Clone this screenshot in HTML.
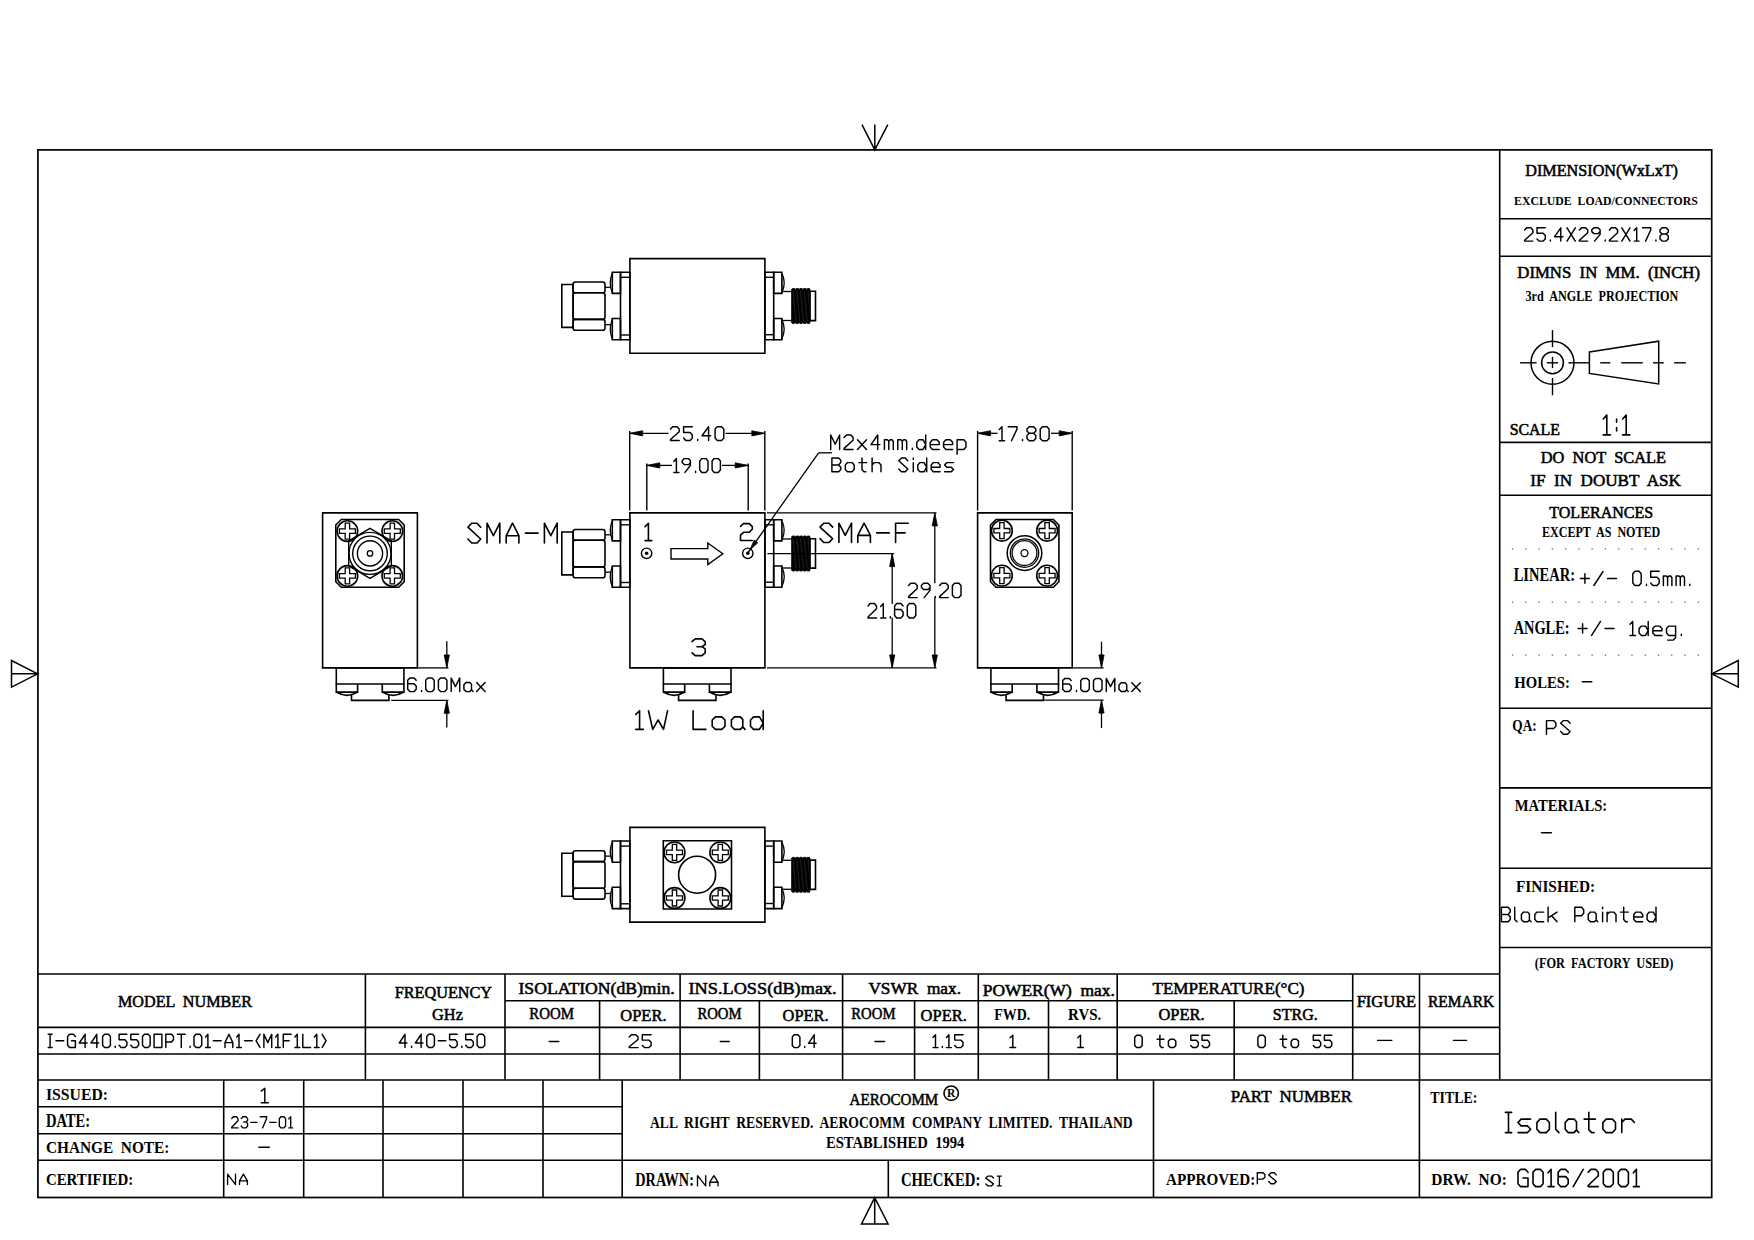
<!DOCTYPE html>
<html><head><meta charset="utf-8"><title>Isolator drawing</title><style>
html,body{margin:0;padding:0;background:#fff;width:1754px;height:1240px;overflow:hidden}
svg{display:block}
text{white-space:pre}
</style></head>
<body><svg width="1754" height="1240" viewBox="0 0 1754 1240">
<rect x="0" y="0" width="1754" height="1240" fill="#fff"/>
<g stroke="#000" fill="none" stroke-width="1.6">
<rect x="37.9" y="149.9" width="1673.8" height="1047.6" stroke-width="1.7"/>
<path d="M862,124.6 L874.8,149.9 L887.8,124.6 M874.8,124.6 L874.8,149.9" stroke-width="1.5"/>
<path d="M874.7,1197.6 L861.5,1223.9 L888.1,1223.9 Z M874.7,1197.6 L874.7,1223.9" stroke-width="1.5"/>
<path d="M37.7,673.8 L11.5,660.5 L11.5,687.1 Z M11.5,673.8 L37.7,673.8" stroke-width="1.5"/>
<path d="M1711.7,673.8 L1738.3,660.5 L1738.3,687.1 Z M1711.7,673.8 L1738.3,673.8" stroke-width="1.5"/>
<line x1="1499.7" y1="149.9" x2="1499.7" y2="1080"/>
<line x1="1499.7" y1="218.8" x2="1711.7" y2="218.8"/>
<line x1="1499.7" y1="256.3" x2="1711.7" y2="256.3"/>
<line x1="1499.7" y1="442.4" x2="1711.7" y2="442.4"/>
<line x1="1499.7" y1="495.3" x2="1711.7" y2="495.3"/>
<line x1="1499.7" y1="708.3" x2="1711.7" y2="708.3"/>
<line x1="1499.7" y1="787.9" x2="1711.7" y2="787.9"/>
<line x1="1499.7" y1="868.2" x2="1711.7" y2="868.2"/>
<line x1="1499.7" y1="947.5" x2="1711.7" y2="947.5"/>
<line x1="37.9" y1="974.0" x2="1499.7" y2="974.0"/>
<line x1="505.0" y1="1000.7" x2="1352.7" y2="1000.7"/>
<line x1="37.9" y1="1027.4" x2="1499.7" y2="1027.4"/>
<line x1="37.9" y1="1054.0" x2="1499.7" y2="1054.0"/>
<line x1="37.9" y1="1080.0" x2="1711.7" y2="1080.0"/>
<line x1="365.4" y1="974.0" x2="365.4" y2="1080.0"/>
<line x1="505.0" y1="974.0" x2="505.0" y2="1080.0"/>
<line x1="680.1" y1="974.0" x2="680.1" y2="1080.0"/>
<line x1="842.6" y1="974.0" x2="842.6" y2="1080.0"/>
<line x1="978.3" y1="974.0" x2="978.3" y2="1080.0"/>
<line x1="1117.2" y1="974.0" x2="1117.2" y2="1080.0"/>
<line x1="1352.7" y1="974.0" x2="1352.7" y2="1080.0"/>
<line x1="1419.5" y1="974.0" x2="1419.5" y2="1080.0"/>
<line x1="599.6" y1="1000.7" x2="599.6" y2="1080.0"/>
<line x1="759.4" y1="1000.7" x2="759.4" y2="1080.0"/>
<line x1="914.6" y1="1000.7" x2="914.6" y2="1080.0"/>
<line x1="1048.5" y1="1000.7" x2="1048.5" y2="1080.0"/>
<line x1="1234.2" y1="1000.7" x2="1234.2" y2="1080.0"/>
<line x1="37.9" y1="1106.8" x2="622.2" y2="1106.8"/>
<line x1="37.9" y1="1133.8" x2="622.2" y2="1133.8"/>
<line x1="37.9" y1="1160.2" x2="1711.7" y2="1160.2"/>
<line x1="223.7" y1="1080.0" x2="223.7" y2="1197.5"/>
<line x1="303.7" y1="1080.0" x2="303.7" y2="1197.5"/>
<line x1="383.0" y1="1080.0" x2="383.0" y2="1197.5"/>
<line x1="463.0" y1="1080.0" x2="463.0" y2="1197.5"/>
<line x1="543.0" y1="1080.0" x2="543.0" y2="1197.5"/>
<line x1="622.2" y1="1080.0" x2="622.2" y2="1197.5"/>
<line x1="1153.5" y1="1080.0" x2="1153.5" y2="1197.5"/>
<line x1="1419.4" y1="1080.0" x2="1419.4" y2="1197.5"/>
<line x1="888.3" y1="1160.2" x2="888.3" y2="1197.5"/>
<text stroke="#000" stroke-width="0.55" fill="#000" font-family="Liberation Serif, serif" font-weight="normal" x="1525.3" y="176.4" font-size="16.56" textLength="152.7" lengthAdjust="spacingAndGlyphs">DIMENSION(WxLxT)</text>
<text stroke="none" fill="#000" font-family="Liberation Serif, serif" font-weight="bold" x="1514.1" y="204.6" font-size="12.21" textLength="183.6" lengthAdjust="spacingAndGlyphs">EXCLUDE  LOAD/CONNECTORS</text>
<path d="M1524.6,230.0 1526.7,227.8 1530.8,227.8 1532.9,230.0 1532.9,232.7 1524.6,240.2 1524.6,241.1 1532.9,241.1M1545.3,227.8 1537.0,227.8 1537.0,233.3 1543.2,233.3 1545.3,235.6 1545.3,238.9 1543.2,241.1 1539.1,241.1 1537.0,238.9M1550.4,241.1 1550.4,240.0M1560.8,241.1 1560.8,227.8 1554.6,236.7 1562.9,236.7M1567.0,241.1 1575.3,227.8M1567.0,227.8 1575.3,241.1M1579.4,230.0 1581.5,227.8 1585.6,227.8 1587.7,230.0 1587.7,232.7 1579.4,240.2 1579.4,241.1 1587.7,241.1M1600.1,231.6 1598.2,233.6 1593.9,233.6 1591.8,231.6 1591.8,229.8 1593.9,227.8 1598.0,227.8 1600.1,229.8 1600.1,234.4 1594.5,241.1M1605.2,241.1 1605.2,240.0M1609.4,230.0 1611.4,227.8 1615.6,227.8 1617.6,230.0 1617.6,232.7 1609.4,240.2 1609.4,241.1 1617.6,241.1M1621.8,241.1 1630.0,227.8M1621.8,227.8 1630.0,241.1M1634.2,230.5 1636.7,227.8 1636.7,241.1M1634.2,241.1 1639.1,241.1M1642.5,227.8 1650.7,227.8 1650.7,230.0 1645.6,241.1M1655.9,241.1 1655.9,240.0M1662.1,234.0 1660.0,232.0 1660.0,229.8 1662.1,227.8 1666.2,227.8 1668.3,229.8 1668.3,232.0 1666.2,234.0 1662.1,234.0 1660.0,236.0 1660.0,238.9 1662.1,241.1 1666.2,241.1 1668.3,238.9 1668.3,236.0 1666.2,234.0" stroke-width="1.45" stroke-linecap="round" stroke-linejoin="round"/>
<text stroke="#000" stroke-width="0.55" fill="#000" font-family="Liberation Serif, serif" font-weight="normal" x="1517.3" y="278.4" font-size="17.02" textLength="182.7" lengthAdjust="spacingAndGlyphs">DIMNS  IN  MM.  (INCH)</text>
<text stroke="none" fill="#000" font-family="Liberation Serif, serif" font-weight="bold" x="1525.5" y="300.7" font-size="13.59" textLength="152.8" lengthAdjust="spacingAndGlyphs">3rd  ANGLE  PROJECTION</text>
<text stroke="#000" stroke-width="0.55" fill="#000" font-family="Liberation Serif, serif" font-weight="normal" x="1509.7" y="434.9" font-size="16.56" textLength="50.2" lengthAdjust="spacingAndGlyphs">SCALE</text>
<path d="M1603.2,419.0 1606.8,415.0 1606.8,434.9M1603.2,434.9 1610.4,434.9M1616.6,430.9 1616.6,427.6M1616.6,422.3 1616.6,419.0M1622.6,419.0 1626.2,415.0 1626.2,434.9M1622.6,434.9 1629.8,434.9" stroke-width="1.6" stroke-linecap="round" stroke-linejoin="round"/>
<text stroke="#000" stroke-width="0.55" fill="#000" font-family="Liberation Serif, serif" font-weight="normal" x="1540.8" y="463.4" font-size="16.56" textLength="125.2" lengthAdjust="spacingAndGlyphs">DO  NOT  SCALE</text>
<text stroke="#000" stroke-width="0.55" fill="#000" font-family="Liberation Serif, serif" font-weight="normal" x="1530.2" y="485.9" font-size="16.87" textLength="150.8" lengthAdjust="spacingAndGlyphs">IF  IN  DOUBT  ASK</text>
<text stroke="#000" stroke-width="0.55" fill="#000" font-family="Liberation Serif, serif" font-weight="normal" x="1549.3" y="517.7" font-size="16.56" textLength="103.9" lengthAdjust="spacingAndGlyphs">TOLERANCES</text>
<text stroke="none" fill="#000" font-family="Liberation Serif, serif" font-weight="bold" x="1542.0" y="536.7" font-size="13.89" textLength="118.2" lengthAdjust="spacingAndGlyphs">EXCEPT  AS  NOTED</text>
<text stroke="none" fill="#000" font-family="Liberation Serif, serif" font-weight="bold" x="1513.7" y="581.2" font-size="18.63" textLength="61.3" lengthAdjust="spacingAndGlyphs">LINEAR:</text>
<path d="M1580.4,578.5 1589.4,578.5M1584.9,583.2 1584.9,573.8M1593.9,585.5 1603.0,571.5M1607.5,578.5 1616.5,578.5" stroke-width="1.45" stroke-linecap="round" stroke-linejoin="round"/>
<path d="M1634.9,585.5 1639.1,585.5 1641.2,583.1 1641.2,573.7 1639.1,571.3 1634.9,571.3 1632.8,573.7 1632.8,583.1 1634.9,585.5M1646.5,585.5 1646.5,584.3M1659.2,571.3 1650.7,571.3 1650.7,577.2 1657.1,577.2 1659.2,579.6 1659.2,583.1 1657.1,585.5 1652.9,585.5 1650.7,583.1M1663.4,585.5 1663.4,576.0 1666.4,576.0 1667.6,577.5 1667.6,585.5M1667.6,577.5 1668.9,576.0 1670.6,576.0 1671.9,577.7 1671.9,585.5M1676.1,585.5 1676.1,576.0 1679.0,576.0 1680.3,577.5 1680.3,585.5M1680.3,577.5 1681.6,576.0 1683.3,576.0 1684.5,577.7 1684.5,585.5M1689.8,585.5 1689.8,584.3" stroke-width="1.45" stroke-linecap="round" stroke-linejoin="round"/>
<text stroke="none" fill="#000" font-family="Liberation Serif, serif" font-weight="bold" x="1513.7" y="633.9" font-size="18.17" textLength="55.9" lengthAdjust="spacingAndGlyphs">ANGLE:</text>
<path d="M1578.1,628.4 1587.1,628.4M1582.6,633.1 1582.6,623.7M1591.6,635.4 1600.5,621.4M1605.0,628.4 1614.0,628.4" stroke-width="1.45" stroke-linecap="round" stroke-linejoin="round"/>
<path d="M1630.0,624.2 1632.7,621.4 1632.7,635.4M1630.0,635.4 1635.5,635.4M1648.2,621.4 1648.2,635.4M1648.2,630.7 1645.5,626.1 1641.4,626.1 1639.1,628.4 1639.1,633.1 1641.4,635.4 1645.5,635.4 1648.2,630.7M1652.8,630.7 1661.9,630.7 1661.9,628.4 1659.6,626.1 1655.1,626.1 1652.8,628.4 1652.8,633.1 1655.1,635.4 1661.9,635.4M1675.6,626.1 1675.6,637.7 1673.3,640.1 1667.6,640.1M1675.6,626.1 1668.8,626.1 1666.5,628.4 1666.5,633.1 1668.8,635.4 1675.6,635.4M1681.3,635.4 1681.3,634.2" stroke-width="1.45" stroke-linecap="round" stroke-linejoin="round"/>
<text stroke="none" fill="#000" font-family="Liberation Serif, serif" font-weight="bold" x="1514.3" y="687.8" font-size="17.40" textLength="55.5" lengthAdjust="spacingAndGlyphs">HOLES:</text>
<path d="M1582.3,681.8 1591.8,681.8" stroke-width="1.45" stroke-linecap="round" stroke-linejoin="round"/>
<text stroke="none" fill="#000" font-family="Liberation Serif, serif" font-weight="bold" x="1512.3" y="730.8" font-size="16.49" textLength="24.4" lengthAdjust="spacingAndGlyphs">QA:</text>
<path d="M1546.5,734.2 1546.5,720.6 1553.6,720.6 1555.9,722.9 1555.9,726.3 1553.6,728.5 1546.5,728.5M1570.1,723.3 1567.5,720.6 1563.5,720.6 1560.7,723.3 1570.1,731.5 1567.5,734.2 1563.5,734.2 1560.7,731.5" stroke-width="1.45" stroke-linecap="round" stroke-linejoin="round"/>
<text stroke="none" fill="#000" font-family="Liberation Serif, serif" font-weight="bold" x="1514.8" y="810.6" font-size="16.49" textLength="92.4" lengthAdjust="spacingAndGlyphs">MATERIALS:</text>
<path d="M1541.5,832.7 1551.4,832.7" stroke-width="1.45" stroke-linecap="round" stroke-linejoin="round"/>
<text stroke="none" fill="#000" font-family="Liberation Serif, serif" font-weight="bold" x="1516.0" y="892.0" font-size="17.40" textLength="79.2" lengthAdjust="spacingAndGlyphs">FINISHED:</text>
<path d="M1501.4,921.8 1501.4,907.3 1508.1,907.3 1510.3,909.7 1510.3,912.1 1508.1,914.5 1501.4,914.5M1508.1,914.5 1510.3,917.0 1510.3,919.4 1508.1,921.8 1501.4,921.8M1514.7,907.3 1514.7,919.4 1517.0,921.8M1523.6,912.1 1527.6,912.1 1529.4,914.1 1529.4,919.9 1531.0,921.8M1523.6,912.1 1521.4,914.5 1521.4,919.4 1523.6,921.8 1527.6,921.8 1529.4,919.9M1543.7,912.1 1537.0,912.1 1534.8,914.5 1534.8,919.4 1537.0,921.8 1543.7,921.8M1548.1,921.8 1548.1,907.3M1557.0,912.1 1548.1,917.9M1551.7,915.8 1557.0,921.8M1574.8,921.8 1574.8,907.3 1581.5,907.3 1583.7,909.7 1583.7,913.3 1581.5,915.8 1574.8,915.8M1590.4,912.1 1594.4,912.1 1596.2,914.1 1596.2,919.9 1597.7,921.8M1590.4,912.1 1588.2,914.5 1588.2,919.4 1590.4,921.8 1594.4,921.8 1596.2,919.9M1602.6,921.8 1602.6,912.1M1602.6,908.8 1602.6,907.3M1607.1,921.8 1607.1,912.1M1607.1,914.5 1609.3,912.1 1613.7,912.1 1616.0,914.5 1616.0,921.8M1620.4,912.1 1628.4,912.1M1623.7,907.3 1623.7,919.6 1625.7,921.8 1627.5,921.8M1633.8,917.0 1642.7,917.0 1642.7,914.5 1640.4,912.1 1636.0,912.1 1633.8,914.5 1633.8,919.4 1636.0,921.8 1642.7,921.8M1656.0,907.3 1656.0,921.8M1656.0,917.0 1653.3,912.1 1649.3,912.1 1647.1,914.5 1647.1,919.4 1649.3,921.8 1653.3,921.8 1656.0,917.0" stroke-width="1.45" stroke-linecap="round" stroke-linejoin="round"/>
<text stroke="none" fill="#000" font-family="Liberation Serif, serif" font-weight="bold" x="1534.8" y="967.6" font-size="13.59" textLength="138.5" lengthAdjust="spacingAndGlyphs">(FOR  FACTORY  USED)</text>
<rect x="1511.9" y="548.2" width="1.3" height="1.3" fill="#666" stroke="none"/>
<rect x="1525.2" y="548.2" width="1.3" height="1.3" fill="#666" stroke="none"/>
<rect x="1538.4" y="548.2" width="1.3" height="1.3" fill="#666" stroke="none"/>
<rect x="1551.7" y="548.2" width="1.3" height="1.3" fill="#666" stroke="none"/>
<rect x="1565.0" y="548.2" width="1.3" height="1.3" fill="#666" stroke="none"/>
<rect x="1578.2" y="548.2" width="1.3" height="1.3" fill="#666" stroke="none"/>
<rect x="1591.5" y="548.2" width="1.3" height="1.3" fill="#666" stroke="none"/>
<rect x="1604.8" y="548.2" width="1.3" height="1.3" fill="#666" stroke="none"/>
<rect x="1618.1" y="548.2" width="1.3" height="1.3" fill="#666" stroke="none"/>
<rect x="1631.3" y="548.2" width="1.3" height="1.3" fill="#666" stroke="none"/>
<rect x="1644.6" y="548.2" width="1.3" height="1.3" fill="#666" stroke="none"/>
<rect x="1657.9" y="548.2" width="1.3" height="1.3" fill="#666" stroke="none"/>
<rect x="1671.1" y="548.2" width="1.3" height="1.3" fill="#666" stroke="none"/>
<rect x="1684.4" y="548.2" width="1.3" height="1.3" fill="#666" stroke="none"/>
<rect x="1697.7" y="548.2" width="1.3" height="1.3" fill="#666" stroke="none"/>
<rect x="1511.9" y="601.5" width="1.3" height="1.3" fill="#666" stroke="none"/>
<rect x="1525.2" y="601.5" width="1.3" height="1.3" fill="#666" stroke="none"/>
<rect x="1538.4" y="601.5" width="1.3" height="1.3" fill="#666" stroke="none"/>
<rect x="1551.7" y="601.5" width="1.3" height="1.3" fill="#666" stroke="none"/>
<rect x="1565.0" y="601.5" width="1.3" height="1.3" fill="#666" stroke="none"/>
<rect x="1578.2" y="601.5" width="1.3" height="1.3" fill="#666" stroke="none"/>
<rect x="1591.5" y="601.5" width="1.3" height="1.3" fill="#666" stroke="none"/>
<rect x="1604.8" y="601.5" width="1.3" height="1.3" fill="#666" stroke="none"/>
<rect x="1618.1" y="601.5" width="1.3" height="1.3" fill="#666" stroke="none"/>
<rect x="1631.3" y="601.5" width="1.3" height="1.3" fill="#666" stroke="none"/>
<rect x="1644.6" y="601.5" width="1.3" height="1.3" fill="#666" stroke="none"/>
<rect x="1657.9" y="601.5" width="1.3" height="1.3" fill="#666" stroke="none"/>
<rect x="1671.1" y="601.5" width="1.3" height="1.3" fill="#666" stroke="none"/>
<rect x="1684.4" y="601.5" width="1.3" height="1.3" fill="#666" stroke="none"/>
<rect x="1697.7" y="601.5" width="1.3" height="1.3" fill="#666" stroke="none"/>
<rect x="1511.9" y="654.5" width="1.3" height="1.3" fill="#666" stroke="none"/>
<rect x="1525.2" y="654.5" width="1.3" height="1.3" fill="#666" stroke="none"/>
<rect x="1538.4" y="654.5" width="1.3" height="1.3" fill="#666" stroke="none"/>
<rect x="1551.7" y="654.5" width="1.3" height="1.3" fill="#666" stroke="none"/>
<rect x="1565.0" y="654.5" width="1.3" height="1.3" fill="#666" stroke="none"/>
<rect x="1578.2" y="654.5" width="1.3" height="1.3" fill="#666" stroke="none"/>
<rect x="1591.5" y="654.5" width="1.3" height="1.3" fill="#666" stroke="none"/>
<rect x="1604.8" y="654.5" width="1.3" height="1.3" fill="#666" stroke="none"/>
<rect x="1618.1" y="654.5" width="1.3" height="1.3" fill="#666" stroke="none"/>
<rect x="1631.3" y="654.5" width="1.3" height="1.3" fill="#666" stroke="none"/>
<rect x="1644.6" y="654.5" width="1.3" height="1.3" fill="#666" stroke="none"/>
<rect x="1657.9" y="654.5" width="1.3" height="1.3" fill="#666" stroke="none"/>
<rect x="1671.1" y="654.5" width="1.3" height="1.3" fill="#666" stroke="none"/>
<rect x="1684.4" y="654.5" width="1.3" height="1.3" fill="#666" stroke="none"/>
<rect x="1697.7" y="654.5" width="1.3" height="1.3" fill="#666" stroke="none"/>
<circle cx="1552.5" cy="362.8" r="21.5" stroke-width="1.5"/>
<circle cx="1552.5" cy="362.8" r="10.9" stroke-width="1.5"/>
<line x1="1520.1" y1="362.8" x2="1536.6" y2="362.8" stroke-width="1.4"/>
<line x1="1546.8" y1="362.8" x2="1558.1" y2="362.8" stroke-width="1.4"/>
<line x1="1568.4" y1="362.8" x2="1588.9" y2="362.8" stroke-width="1.4"/>
<line x1="1600.2" y1="362.8" x2="1610.4" y2="362.8" stroke-width="1.4"/>
<line x1="1621.2" y1="362.8" x2="1642.8" y2="362.8" stroke-width="1.4"/>
<line x1="1653.0" y1="362.8" x2="1663.8" y2="362.8" stroke-width="1.4"/>
<line x1="1674.1" y1="362.8" x2="1685.9" y2="362.8" stroke-width="1.4"/>
<line x1="1552.5" y1="330.1" x2="1552.5" y2="347.1" stroke-width="1.4"/>
<line x1="1552.5" y1="356.8" x2="1552.5" y2="368.1" stroke-width="1.4"/>
<line x1="1552.5" y1="377.9" x2="1552.5" y2="395.3" stroke-width="1.4"/>
<path d="M1589.4,351.9 L1658.7,341.2 L1658.7,384.0 L1589.4,373.4 Z" stroke-width="1.5"/>
<text stroke="#000" stroke-width="0.55" fill="#000" font-family="Liberation Serif, serif" font-weight="normal" x="118.0" y="1006.6" font-size="16.87" textLength="133.9" lengthAdjust="spacingAndGlyphs">MODEL  NUMBER</text>
<text stroke="#000" stroke-width="0.55" fill="#000" font-family="Liberation Serif, serif" font-weight="normal" x="394.7" y="997.8" font-size="16.87" textLength="97.4" lengthAdjust="spacingAndGlyphs">FREQUENCY</text>
<text stroke="#000" stroke-width="0.55" fill="#000" font-family="Liberation Serif, serif" font-weight="normal" x="432.1" y="1020.0" font-size="16.72" textLength="30.8" lengthAdjust="spacingAndGlyphs">GHz</text>
<text stroke="#000" stroke-width="0.55" fill="#000" font-family="Liberation Serif, serif" font-weight="normal" x="518.5" y="994.2" font-size="16.56" textLength="156.2" lengthAdjust="spacingAndGlyphs">ISOLATION(dB)min.</text>
<text stroke="#000" stroke-width="0.55" fill="#000" font-family="Liberation Serif, serif" font-weight="normal" x="688.5" y="994.4" font-size="17.48" textLength="148.2" lengthAdjust="spacingAndGlyphs">INS.LOSS(dB)max.</text>
<text stroke="#000" stroke-width="0.55" fill="#000" font-family="Liberation Serif, serif" font-weight="normal" x="868.4" y="994.4" font-size="17.48" textLength="92.6" lengthAdjust="spacingAndGlyphs">VSWR  max.</text>
<text stroke="#000" stroke-width="0.55" fill="#000" font-family="Liberation Serif, serif" font-weight="normal" x="982.7" y="995.5" font-size="16.87" textLength="132.1" lengthAdjust="spacingAndGlyphs">POWER(W)  max.</text>
<text stroke="#000" stroke-width="0.55" fill="#000" font-family="Liberation Serif, serif" font-weight="normal" x="1152.5" y="993.5" font-size="17.48" textLength="152.0" lengthAdjust="spacingAndGlyphs">TEMPERATURE(°C)</text>
<text stroke="#000" stroke-width="0.55" fill="#000" font-family="Liberation Serif, serif" font-weight="normal" x="1356.7" y="1006.7" font-size="16.26" textLength="59.5" lengthAdjust="spacingAndGlyphs">FIGURE</text>
<text stroke="#000" stroke-width="0.55" fill="#000" font-family="Liberation Serif, serif" font-weight="normal" x="1428.0" y="1006.7" font-size="16.26" textLength="66.2" lengthAdjust="spacingAndGlyphs">REMARK</text>
<text stroke="#000" stroke-width="0.55" fill="#000" font-family="Liberation Serif, serif" font-weight="normal" x="529.3" y="1019.2" font-size="17.02" textLength="44.6" lengthAdjust="spacingAndGlyphs">ROOM</text>
<text stroke="#000" stroke-width="0.55" fill="#000" font-family="Liberation Serif, serif" font-weight="normal" x="697.4" y="1019.2" font-size="17.02" textLength="44.2" lengthAdjust="spacingAndGlyphs">ROOM</text>
<text stroke="#000" stroke-width="0.55" fill="#000" font-family="Liberation Serif, serif" font-weight="normal" x="851.3" y="1019.2" font-size="17.02" textLength="44.2" lengthAdjust="spacingAndGlyphs">ROOM</text>
<text stroke="#000" stroke-width="0.55" fill="#000" font-family="Liberation Serif, serif" font-weight="normal" x="620.3" y="1021.0" font-size="17.18" textLength="46.2" lengthAdjust="spacingAndGlyphs">OPER.</text>
<text stroke="#000" stroke-width="0.55" fill="#000" font-family="Liberation Serif, serif" font-weight="normal" x="782.6" y="1021.0" font-size="17.18" textLength="46.0" lengthAdjust="spacingAndGlyphs">OPER.</text>
<text stroke="#000" stroke-width="0.55" fill="#000" font-family="Liberation Serif, serif" font-weight="normal" x="920.6" y="1021.0" font-size="17.18" textLength="46.2" lengthAdjust="spacingAndGlyphs">OPER.</text>
<text stroke="none" fill="#000" font-family="Liberation Serif, serif" font-weight="bold" x="994.3" y="1020.0" font-size="17.40" textLength="35.9" lengthAdjust="spacingAndGlyphs">FWD.</text>
<text stroke="none" fill="#000" font-family="Liberation Serif, serif" font-weight="bold" x="1068.1" y="1020.0" font-size="17.40" textLength="33.2" lengthAdjust="spacingAndGlyphs">RVS.</text>
<text stroke="#000" stroke-width="0.55" fill="#000" font-family="Liberation Serif, serif" font-weight="normal" x="1158.4" y="1019.7" font-size="16.56" textLength="46.2" lengthAdjust="spacingAndGlyphs">OPER.</text>
<text stroke="#000" stroke-width="0.55" fill="#000" font-family="Liberation Serif, serif" font-weight="normal" x="1272.8" y="1019.7" font-size="16.56" textLength="44.9" lengthAdjust="spacingAndGlyphs">STRG.</text>
<path d="M48.2,1034.3 52.1,1034.3M50.1,1034.3 50.1,1047.4M48.2,1047.4 52.1,1047.4M56.0,1040.8 63.7,1040.8M75.4,1036.5 73.5,1034.3 69.6,1034.3 67.6,1036.5 67.6,1045.2 69.6,1047.4 75.4,1047.4 75.4,1040.8 71.5,1040.8M85.1,1047.4 85.1,1034.3 79.3,1043.0 87.1,1043.0M96.8,1047.4 96.8,1034.3 91.0,1043.0 98.7,1043.0M104.6,1047.4 108.4,1047.4 110.4,1045.2 110.4,1036.5 108.4,1034.3 104.6,1034.3 102.6,1036.5 102.6,1045.2 104.6,1047.4M115.2,1047.4 115.2,1046.3M126.9,1034.3 119.1,1034.3 119.1,1039.8 125.0,1039.8 126.9,1041.9 126.9,1045.2 125.0,1047.4 121.1,1047.4 119.1,1045.2M138.6,1034.3 130.8,1034.3 130.8,1039.8 136.6,1039.8 138.6,1041.9 138.6,1045.2 136.6,1047.4 132.7,1047.4 130.8,1045.2M144.4,1047.4 148.3,1047.4 150.2,1045.2 150.2,1036.5 148.3,1034.3 144.4,1034.3 142.5,1036.5 142.5,1045.2 144.4,1047.4M154.1,1047.4 161.9,1047.4 161.9,1034.3 154.1,1034.3 154.1,1047.4M165.8,1047.4 165.8,1034.3 171.6,1034.3 173.5,1036.5 173.5,1039.8 171.6,1041.9 165.8,1041.9M177.4,1034.3 185.2,1034.3M181.3,1034.3 181.3,1047.4M190.1,1047.4 190.1,1046.3M195.9,1047.4 199.8,1047.4 201.7,1045.2 201.7,1036.5 199.8,1034.3 195.9,1034.3 194.0,1036.5 194.0,1045.2 195.9,1047.4M205.6,1036.9 207.9,1034.3 207.9,1047.4M205.6,1047.4 210.3,1047.4M213.4,1040.8 221.2,1040.8M225.0,1047.4 225.0,1042.6 228.9,1034.3 232.8,1042.6 232.8,1047.4M225.0,1042.6 232.8,1042.6M236.7,1036.9 239.0,1034.3 239.0,1047.4M236.7,1047.4 241.4,1047.4M244.5,1040.8 252.3,1040.8M260.0,1034.3 256.1,1040.8 260.0,1047.4M263.9,1047.4 263.9,1034.3 267.8,1042.6 271.7,1034.3 271.7,1047.4M275.6,1036.9 277.9,1034.3 277.9,1047.4M275.6,1047.4 280.2,1047.4M291.1,1034.3 283.3,1034.3 283.3,1047.4M283.3,1040.8 289.2,1040.8M295.0,1036.9 297.3,1034.3 297.3,1047.4M295.0,1047.4 299.7,1047.4M302.8,1034.3 302.8,1047.4 310.6,1047.4M314.4,1036.9 316.8,1034.3 316.8,1047.4M314.4,1047.4 319.1,1047.4M322.2,1034.3 326.1,1040.8 322.2,1047.4" stroke-width="1.45" stroke-linecap="round" stroke-linejoin="round"/>
<path d="M405.0,1047.4 405.0,1034.3 399.3,1043.0 406.9,1043.0M411.6,1047.4 411.6,1046.3M421.1,1047.4 421.1,1034.3 415.4,1043.0 423.0,1043.0M428.7,1047.4 432.5,1047.4 434.4,1045.2 434.4,1036.5 432.5,1034.3 428.7,1034.3 426.8,1036.5 426.8,1045.2 428.7,1047.4M438.2,1040.8 445.8,1040.8M457.2,1034.3 449.6,1034.3 449.6,1039.8 455.3,1039.8 457.2,1041.9 457.2,1045.2 455.3,1047.4 451.5,1047.4 449.6,1045.2M461.9,1047.4 461.9,1046.3M473.3,1034.3 465.7,1034.3 465.7,1039.8 471.4,1039.8 473.3,1041.9 473.3,1045.2 471.4,1047.4 467.6,1047.4 465.7,1045.2M479.0,1047.4 482.8,1047.4 484.7,1045.2 484.7,1036.5 482.8,1034.3 479.0,1034.3 477.1,1036.5 477.1,1045.2 479.0,1047.4" stroke-width="1.45" stroke-linecap="round" stroke-linejoin="round"/>
<path d="M549.3,1041.4 558.8,1041.4" stroke-width="1.45" stroke-linecap="round" stroke-linejoin="round"/>
<path d="M720.3,1041.4 729.3,1041.4" stroke-width="1.45" stroke-linecap="round" stroke-linejoin="round"/>
<path d="M874.9,1041.4 884.5,1041.4" stroke-width="1.45" stroke-linecap="round" stroke-linejoin="round"/>
<path d="M629.2,1036.9 631.4,1034.8 635.8,1034.8 638.0,1036.9 638.0,1039.5 629.2,1046.7 629.2,1047.6 638.0,1047.6M651.1,1034.8 642.3,1034.8 642.3,1040.1 648.9,1040.1 651.1,1042.3 651.1,1045.5 648.9,1047.6 644.5,1047.6 642.3,1045.5" stroke-width="1.45" stroke-linecap="round" stroke-linejoin="round"/>
<path d="M794.2,1047.6 798.0,1047.6 799.9,1045.5 799.9,1036.9 798.0,1034.8 794.2,1034.8 792.3,1036.9 792.3,1045.5 794.2,1047.6M804.7,1047.6 804.7,1046.5M814.2,1047.6 814.2,1034.8 808.5,1043.3 816.1,1043.3" stroke-width="1.45" stroke-linecap="round" stroke-linejoin="round"/>
<path d="M933.0,1037.4 935.5,1034.8 935.5,1047.6M933.0,1047.6 938.0,1047.6M942.3,1047.6 942.3,1046.5M946.4,1037.4 948.9,1034.8 948.9,1047.6M946.4,1047.6 951.4,1047.6M963.0,1034.8 954.7,1034.8 954.7,1040.1 960.9,1040.1 963.0,1042.3 963.0,1045.5 960.9,1047.6 956.8,1047.6 954.7,1045.5" stroke-width="1.45" stroke-linecap="round" stroke-linejoin="round"/>
<path d="M1010.0,1037.7 1012.8,1035.2 1012.8,1047.5M1010.0,1047.5 1015.6,1047.5" stroke-width="1.45" stroke-linecap="round" stroke-linejoin="round"/>
<path d="M1077.8,1037.7 1080.5,1035.2 1080.5,1047.5M1077.8,1047.5 1083.3,1047.5" stroke-width="1.45" stroke-linecap="round" stroke-linejoin="round"/>
<path d="M1136.6,1047.5 1140.3,1047.5 1142.2,1045.5 1142.2,1037.2 1140.3,1035.2 1136.6,1035.2 1134.7,1037.2 1134.7,1045.5 1136.6,1047.5M1157.1,1039.3 1163.9,1039.3M1159.9,1035.2 1159.9,1045.7 1161.6,1047.5 1163.1,1047.5M1170.2,1047.5 1174.0,1047.5 1175.8,1045.5 1175.8,1041.3 1174.0,1039.3 1170.2,1039.3 1168.4,1041.3 1168.4,1045.5 1170.2,1047.5M1198.3,1035.2 1190.8,1035.2 1190.8,1040.3 1196.4,1040.3 1198.3,1042.4 1198.3,1045.5 1196.4,1047.5 1192.7,1047.5 1190.8,1045.5M1209.5,1035.2 1202.0,1035.2 1202.0,1040.3 1207.6,1040.3 1209.5,1042.4 1209.5,1045.5 1207.6,1047.5 1203.9,1047.5 1202.0,1045.5" stroke-width="1.45" stroke-linecap="round" stroke-linejoin="round"/>
<path d="M1259.7,1047.5 1263.4,1047.5 1265.3,1045.5 1265.3,1037.2 1263.4,1035.2 1259.7,1035.2 1257.9,1037.2 1257.9,1045.5 1259.7,1047.5M1280.1,1039.3 1286.7,1039.3M1282.8,1035.2 1282.8,1045.7 1284.5,1047.5 1286.0,1047.5M1293.0,1047.5 1296.7,1047.5 1298.5,1045.5 1298.5,1041.3 1296.7,1039.3 1293.0,1039.3 1291.2,1041.3 1291.2,1045.5 1293.0,1047.5M1320.7,1035.2 1313.3,1035.2 1313.3,1040.3 1318.9,1040.3 1320.7,1042.4 1320.7,1045.5 1318.9,1047.5 1315.2,1047.5 1313.3,1045.5M1331.8,1035.2 1324.4,1035.2 1324.4,1040.3 1330.0,1040.3 1331.8,1042.4 1331.8,1045.5 1330.0,1047.5 1326.3,1047.5 1324.4,1045.5" stroke-width="1.45" stroke-linecap="round" stroke-linejoin="round"/>
<line x1="1377" y1="1040.4" x2="1392.4" y2="1040.4" stroke-width="1.3"/>
<line x1="1452.8" y1="1040.4" x2="1467.2" y2="1040.4" stroke-width="1.3"/>
<text stroke="none" fill="#000" font-family="Liberation Serif, serif" font-weight="bold" x="45.9" y="1100.2" font-size="17.71" textLength="62.1" lengthAdjust="spacingAndGlyphs">ISSUED:</text>
<path d="M261.3,1091.1 264.8,1088.2 264.8,1102.8M261.3,1102.8 268.3,1102.8" stroke-width="1.45" stroke-linecap="round" stroke-linejoin="round"/>
<text stroke="none" fill="#000" font-family="Liberation Serif, serif" font-weight="bold" x="45.9" y="1126.5" font-size="17.86" textLength="44.3" lengthAdjust="spacingAndGlyphs">DATE:</text>
<path d="M231.7,1118.6 233.3,1116.7 236.5,1116.7 238.0,1118.6 238.0,1120.8 231.7,1127.2 231.7,1127.9 238.0,1127.9M241.2,1118.6 242.8,1116.7 246.0,1116.7 247.6,1118.6 247.6,1120.4 246.0,1121.9 243.6,1121.9M246.0,1121.9 247.6,1123.4 247.6,1126.0 246.0,1127.9 242.8,1127.9 241.2,1126.0M250.7,1122.3 257.1,1122.3M260.2,1116.7 266.6,1116.7 266.6,1118.6 262.6,1127.9M269.8,1122.3 276.1,1122.3M280.9,1127.9 284.0,1127.9 285.6,1126.0 285.6,1118.6 284.0,1116.7 280.9,1116.7 279.3,1118.6 279.3,1126.0 280.9,1127.9M288.8,1118.9 290.7,1116.7 290.7,1127.9M288.8,1127.9 292.6,1127.9" stroke-width="1.35" stroke-linecap="round" stroke-linejoin="round"/>
<text stroke="none" fill="#000" font-family="Liberation Serif, serif" font-weight="bold" x="45.9" y="1153.2" font-size="17.40" textLength="123.5" lengthAdjust="spacingAndGlyphs">CHANGE  NOTE:</text>
<path d="M258.9,1147.3 269.3,1147.3" stroke-width="1.45" stroke-linecap="round" stroke-linejoin="round"/>
<text stroke="none" fill="#000" font-family="Liberation Serif, serif" font-weight="bold" x="45.9" y="1184.6" font-size="17.40" textLength="87.3" lengthAdjust="spacingAndGlyphs">CERTIFIED:</text>
<path d="M227.6,1184.6 227.6,1174.1 235.5,1184.6 235.5,1174.1M239.5,1184.6 239.5,1180.8 243.4,1174.1 247.4,1180.8 247.4,1184.6M239.5,1180.8 247.4,1180.8" stroke-width="1.35" stroke-linecap="round" stroke-linejoin="round"/>
<text stroke="#000" stroke-width="0.55" fill="#000" font-family="Liberation Serif, serif" font-weight="normal" x="849.6" y="1104.9" font-size="16.87" textLength="88.6" lengthAdjust="spacingAndGlyphs">AEROCOMM</text>
<circle cx="951.2" cy="1093.2" r="7.2" stroke-width="1.6"/>
<text stroke="none" fill="#000" font-family="Liberation Serif, serif" font-weight="bold" x="951.2" y="1097.4" font-size="11.5" text-anchor="middle">R</text>
<text stroke="none" fill="#000" font-family="Liberation Serif, serif" font-weight="bold" x="650.0" y="1128.2" font-size="16.18" textLength="482.6" lengthAdjust="spacingAndGlyphs">ALL  RIGHT  RESERVED.  AEROCOMM  COMPANY  LIMITED.  THAILAND</text>
<text stroke="none" fill="#000" font-family="Liberation Serif, serif" font-weight="bold" x="825.9" y="1148.1" font-size="16.03" textLength="138.5" lengthAdjust="spacingAndGlyphs">ESTABLISHED  1994</text>
<text stroke="none" fill="#000" font-family="Liberation Serif, serif" font-weight="bold" x="635.3" y="1185.9" font-size="18.32" textLength="58.6" lengthAdjust="spacingAndGlyphs">DRAWN:</text>
<path d="M697.5,1185.9 697.5,1175.7 705.7,1185.9 705.7,1175.7M709.8,1185.9 709.8,1182.2 713.9,1175.7 718.0,1182.2 718.0,1185.9M709.8,1182.2 718.0,1182.2" stroke-width="1.35" stroke-linecap="round" stroke-linejoin="round"/>
<text stroke="none" fill="#000" font-family="Liberation Serif, serif" font-weight="bold" x="900.9" y="1185.9" font-size="18.32" textLength="79.4" lengthAdjust="spacingAndGlyphs">CHECKED:</text>
<path d="M993.5,1178.1 991.4,1176.1 988.1,1176.1 985.8,1178.1 993.5,1183.9 991.4,1185.9 988.1,1185.9 985.8,1183.9M997.4,1176.1 1001.3,1176.1M999.4,1176.1 999.4,1185.9M997.4,1185.9 1001.3,1185.9" stroke-width="1.35" stroke-linecap="round" stroke-linejoin="round"/>
<text stroke="#000" stroke-width="0.55" fill="#000" font-family="Liberation Serif, serif" font-weight="normal" x="1230.8" y="1102.2" font-size="16.87" textLength="121.2" lengthAdjust="spacingAndGlyphs">PART  NUMBER</text>
<text stroke="none" fill="#000" font-family="Liberation Serif, serif" font-weight="bold" x="1430.3" y="1103.1" font-size="16.79" textLength="47.0" lengthAdjust="spacingAndGlyphs">TITLE:</text>
<path d="M1505.4,1112.4 1511.7,1112.4M1508.5,1112.4 1508.5,1132.6M1505.4,1132.6 1511.7,1132.6M1530.6,1119.1 1521.1,1119.1 1518.0,1122.5 1521.1,1125.9 1527.4,1125.9 1530.6,1129.2 1527.4,1132.6 1518.0,1132.6M1540.0,1132.6 1546.3,1132.6 1549.4,1129.2 1549.4,1122.5 1546.3,1119.1 1540.0,1119.1 1536.9,1122.5 1536.9,1129.2 1540.0,1132.6M1555.7,1112.4 1555.7,1129.2 1558.9,1132.6M1568.3,1119.1 1574.0,1119.1 1576.5,1121.8 1576.5,1129.9 1578.7,1132.6M1568.3,1119.1 1565.2,1122.5 1565.2,1129.2 1568.3,1132.6 1574.0,1132.6 1576.5,1129.9M1584.1,1119.1 1595.4,1119.1M1588.8,1112.4 1588.8,1129.6 1591.6,1132.6 1594.1,1132.6M1606.1,1132.6 1612.4,1132.6 1615.5,1129.2 1615.5,1122.5 1612.4,1119.1 1606.1,1119.1 1602.9,1122.5 1602.9,1129.2 1606.1,1132.6M1621.8,1132.6 1621.8,1119.1M1621.8,1122.5 1625.0,1119.1 1631.3,1119.1 1634.4,1122.5" stroke-width="1.6" stroke-linecap="round" stroke-linejoin="round"/>
<text stroke="none" fill="#000" font-family="Liberation Serif, serif" font-weight="bold" x="1166.0" y="1184.7" font-size="17.71" textLength="89.2" lengthAdjust="spacingAndGlyphs">APPROVED:</text>
<path d="M1257.3,1183.7 1257.3,1172.7 1263.0,1172.7 1264.9,1174.5 1264.9,1177.3 1263.0,1179.1 1257.3,1179.1M1276.3,1174.9 1274.2,1172.7 1271.0,1172.7 1268.7,1174.9 1276.3,1181.5 1274.2,1183.7 1271.0,1183.7 1268.7,1181.5" stroke-width="1.35" stroke-linecap="round" stroke-linejoin="round"/>
<text stroke="none" fill="#000" font-family="Liberation Serif, serif" font-weight="bold" x="1431.3" y="1184.7" font-size="17.71" textLength="75.5" lengthAdjust="spacingAndGlyphs">DRW.  NO:</text>
<path d="M1528.0,1172.3 1525.5,1169.4 1520.5,1169.4 1518.0,1172.3 1518.0,1183.7 1520.5,1186.6 1528.0,1186.6 1528.0,1178.0 1523.0,1178.0M1535.6,1186.6 1540.6,1186.6 1543.1,1183.7 1543.1,1172.3 1540.6,1169.4 1535.6,1169.4 1533.0,1172.3 1533.0,1183.7 1535.6,1186.6M1548.1,1172.8 1551.1,1169.4 1551.1,1186.6M1548.1,1186.6 1554.1,1186.6M1568.2,1172.3 1565.7,1169.4 1560.6,1169.4 1558.1,1172.3 1558.1,1183.7 1560.6,1186.6 1565.7,1186.6 1568.2,1183.7 1568.2,1179.4 1565.7,1176.6 1558.1,1176.6M1573.2,1186.6 1583.2,1169.4M1588.2,1172.3 1590.7,1169.4 1595.8,1169.4 1598.3,1172.3 1598.3,1175.7 1588.2,1185.5 1588.2,1186.6 1598.3,1186.6M1605.8,1186.6 1610.8,1186.6 1613.3,1183.7 1613.3,1172.3 1610.8,1169.4 1605.8,1169.4 1603.3,1172.3 1603.3,1183.7 1605.8,1186.6M1620.8,1186.6 1625.9,1186.6 1628.4,1183.7 1628.4,1172.3 1625.9,1169.4 1620.8,1169.4 1618.3,1172.3 1618.3,1183.7 1620.8,1186.6M1633.4,1172.8 1636.4,1169.4 1636.4,1186.6M1633.4,1186.6 1639.4,1186.6" stroke-width="1.6" stroke-linecap="round" stroke-linejoin="round"/>
<path d="M629.9,258.6 H764.9 V353.3 H629.9 Z"/>
<path d="M561.8,284.5 H573.1 V327.4 H561.8 Z"/>
<rect x="573.1" y="282.0" width="31.9" height="10.8" rx="2.3" ry="2.3"/>
<rect x="573.1" y="292.8" width="31.9" height="26.6" rx="2.3" ry="2.3"/>
<rect x="573.1" y="319.4" width="31.9" height="10.9" rx="2.3" ry="2.3"/>
<line x1="605.0" y1="287.3" x2="611.0" y2="287.3" stroke-width="1.3"/>
<line x1="605.0" y1="324.7" x2="611.0" y2="324.7" stroke-width="1.3"/>
<path d="M612.3,272.2 H620.5 V293.4 H612.3 Z"/>
<path d="M612.3,273.2 Q608.2,282.8 612.3,292.4" stroke-width="1.3"/>
<path d="M612.3,318.5 H620.5 V339.8 H612.3 Z"/>
<path d="M612.3,319.5 Q608.2,329.1 612.3,338.8" stroke-width="1.3"/>
<path d="M620.5,272.2 H629.9 V339.8 H620.5 Z"/>
<line x1="620.5" y1="277.3" x2="629.9" y2="277.3" stroke-width="1.4"/>
<line x1="620.5" y1="335.0" x2="629.9" y2="335.0" stroke-width="1.4"/>
<path d="M764.9,272.2 H773.7 V339.8 H764.9 Z"/>
<line x1="764.9" y1="277.3" x2="773.7" y2="277.3" stroke-width="1.4"/>
<line x1="764.9" y1="334.7" x2="773.7" y2="334.7" stroke-width="1.4"/>
<path d="M773.7,272.2 H781.9 V293.4 H773.7 Z"/>
<path d="M781.9,273.2 Q786.5,282.8 781.9,292.4" stroke-width="1.3"/>
<path d="M773.7,318.5 H781.9 V339.8 H773.7 Z"/>
<path d="M781.9,319.5 Q786.5,329.1 781.9,338.8" stroke-width="1.3"/>
<line x1="782.5" y1="291.5" x2="791.6" y2="291.5" stroke-width="1.3"/>
<line x1="782.5" y1="320.5" x2="791.6" y2="320.5" stroke-width="1.3"/>
<path d="M791.6,289.2 H810.0 V322.8 H791.6 Z" stroke-width="0.8" fill="#000"/>
<rect x="792.2" y="288.1" width="2.6" height="2.0" fill="#000" stroke="none"/>
<rect x="792.2" y="321.9" width="2.6" height="2.0" fill="#000" stroke="none"/>
<rect x="796.0" y="288.1" width="2.6" height="2.0" fill="#000" stroke="none"/>
<rect x="796.0" y="321.9" width="2.6" height="2.0" fill="#000" stroke="none"/>
<rect x="799.7" y="288.1" width="2.6" height="2.0" fill="#000" stroke="none"/>
<rect x="799.7" y="321.9" width="2.6" height="2.0" fill="#000" stroke="none"/>
<rect x="803.5" y="288.1" width="2.6" height="2.0" fill="#000" stroke="none"/>
<rect x="803.5" y="321.9" width="2.6" height="2.0" fill="#000" stroke="none"/>
<rect x="807.2" y="288.1" width="2.6" height="2.0" fill="#000" stroke="none"/>
<rect x="807.2" y="321.9" width="2.6" height="2.0" fill="#000" stroke="none"/>
<line x1="793.0" y1="291.0" x2="796.0" y2="321.0" stroke="#fff" stroke-width="0.5" opacity="0.25"/>
<line x1="796.8" y1="291.0" x2="799.8" y2="321.0" stroke="#fff" stroke-width="0.5" opacity="0.25"/>
<line x1="800.5" y1="291.0" x2="803.5" y2="321.0" stroke="#fff" stroke-width="0.5" opacity="0.25"/>
<line x1="804.2" y1="291.0" x2="807.2" y2="321.0" stroke="#fff" stroke-width="0.5" opacity="0.25"/>
<line x1="808.0" y1="291.0" x2="811.0" y2="321.0" stroke="#fff" stroke-width="0.5" opacity="0.25"/>
<path d="M810.0,291.3 H815.5 V320.6 H810.0 Z"/>
<path d="M629.9,827.4 H764.9 V922.1 H629.9 Z"/>
<path d="M561.8,853.3 H573.1 V896.2 H561.8 Z"/>
<rect x="573.1" y="850.8" width="31.9" height="10.8" rx="2.3" ry="2.3"/>
<rect x="573.1" y="861.6" width="31.9" height="26.6" rx="2.3" ry="2.3"/>
<rect x="573.1" y="888.2" width="31.9" height="10.9" rx="2.3" ry="2.3"/>
<line x1="605.0" y1="856.0999999999999" x2="611.0" y2="856.0999999999999" stroke-width="1.3"/>
<line x1="605.0" y1="893.5" x2="611.0" y2="893.5" stroke-width="1.3"/>
<path d="M612.3,841.0 H620.5 V862.2 H612.3 Z"/>
<path d="M612.3,842.0 Q608.2,851.6 612.3,861.2" stroke-width="1.3"/>
<path d="M612.3,887.3 H620.5 V908.6 H612.3 Z"/>
<path d="M612.3,888.3 Q608.2,897.9 612.3,907.6" stroke-width="1.3"/>
<path d="M620.5,841.0 H629.9 V908.6 H620.5 Z"/>
<line x1="620.5" y1="846.0999999999999" x2="629.9" y2="846.0999999999999" stroke-width="1.4"/>
<line x1="620.5" y1="903.8" x2="629.9" y2="903.8" stroke-width="1.4"/>
<path d="M764.9,841.0 H773.7 V908.6 H764.9 Z"/>
<line x1="764.9" y1="846.0999999999999" x2="773.7" y2="846.0999999999999" stroke-width="1.4"/>
<line x1="764.9" y1="903.5" x2="773.7" y2="903.5" stroke-width="1.4"/>
<path d="M773.7,841.0 H781.9 V862.2 H773.7 Z"/>
<path d="M781.9,842.0 Q786.5,851.6 781.9,861.2" stroke-width="1.3"/>
<path d="M773.7,887.3 H781.9 V908.6 H773.7 Z"/>
<path d="M781.9,888.3 Q786.5,897.9 781.9,907.6" stroke-width="1.3"/>
<line x1="782.5" y1="860.3" x2="791.6" y2="860.3" stroke-width="1.3"/>
<line x1="782.5" y1="889.3" x2="791.6" y2="889.3" stroke-width="1.3"/>
<path d="M791.6,858.0 H810.0 V891.6 H791.6 Z" stroke-width="0.8" fill="#000"/>
<rect x="792.2" y="856.9" width="2.6" height="2.0" fill="#000" stroke="none"/>
<rect x="792.2" y="890.7" width="2.6" height="2.0" fill="#000" stroke="none"/>
<rect x="796.0" y="856.9" width="2.6" height="2.0" fill="#000" stroke="none"/>
<rect x="796.0" y="890.7" width="2.6" height="2.0" fill="#000" stroke="none"/>
<rect x="799.7" y="856.9" width="2.6" height="2.0" fill="#000" stroke="none"/>
<rect x="799.7" y="890.7" width="2.6" height="2.0" fill="#000" stroke="none"/>
<rect x="803.5" y="856.9" width="2.6" height="2.0" fill="#000" stroke="none"/>
<rect x="803.5" y="890.7" width="2.6" height="2.0" fill="#000" stroke="none"/>
<rect x="807.2" y="856.9" width="2.6" height="2.0" fill="#000" stroke="none"/>
<rect x="807.2" y="890.7" width="2.6" height="2.0" fill="#000" stroke="none"/>
<line x1="793.0" y1="859.8" x2="796.0" y2="889.8" stroke="#fff" stroke-width="0.5" opacity="0.25"/>
<line x1="796.8" y1="859.8" x2="799.8" y2="889.8" stroke="#fff" stroke-width="0.5" opacity="0.25"/>
<line x1="800.5" y1="859.8" x2="803.5" y2="889.8" stroke="#fff" stroke-width="0.5" opacity="0.25"/>
<line x1="804.2" y1="859.8" x2="807.2" y2="889.8" stroke="#fff" stroke-width="0.5" opacity="0.25"/>
<line x1="808.0" y1="859.8" x2="811.0" y2="889.8" stroke="#fff" stroke-width="0.5" opacity="0.25"/>
<path d="M810.0,860.1 H815.5 V889.4 H810.0 Z"/>
<path d="M663.3,840.7 H731.5 V909.0 H663.3 Z"/>
<circle cx="674.5" cy="852.4" r="10.4" stroke-width="1.6"/>
<path d="M672.3,844.4 H676.7 V850.2 H682.5 V854.6 H676.7 V860.4 H672.3 V854.6 H666.5 V850.2 H672.3 Z" stroke-width="1.3"/>
<circle cx="720.3" cy="852.4" r="10.4" stroke-width="1.6"/>
<path d="M718.1,844.4 H722.5 V850.2 H728.3 V854.6 H722.5 V860.4 H718.1 V854.6 H712.3 V850.2 H718.1 Z" stroke-width="1.3"/>
<circle cx="674.5" cy="898.0" r="10.4" stroke-width="1.6"/>
<path d="M672.3,890.0 H676.7 V895.8 H682.5 V900.2 H676.7 V906.0 H672.3 V900.2 H666.5 V895.8 H672.3 Z" stroke-width="1.3"/>
<circle cx="720.3" cy="898.0" r="10.4" stroke-width="1.6"/>
<path d="M718.1,890.0 H722.5 V895.8 H728.3 V900.2 H722.5 V906.0 H718.1 V900.2 H712.3 V895.8 H718.1 Z" stroke-width="1.3"/>
<circle cx="697.1" cy="874.7" r="18.5"/>
<path d="M629.9,512.9 H764.9 V667.9 H629.9 Z"/>
<path d="M561.8,532.0 H573.1 V574.9 H561.8 Z"/>
<rect x="573.1" y="529.5" width="31.9" height="10.8" rx="2.3" ry="2.3"/>
<rect x="573.1" y="540.3" width="31.9" height="26.6" rx="2.3" ry="2.3"/>
<rect x="573.1" y="566.9" width="31.9" height="10.9" rx="2.3" ry="2.3"/>
<line x1="605.0" y1="534.8" x2="611.0" y2="534.8" stroke-width="1.3"/>
<line x1="605.0" y1="572.2" x2="611.0" y2="572.2" stroke-width="1.3"/>
<path d="M612.3,519.7 H620.5 V540.9 H612.3 Z"/>
<path d="M612.3,520.7 Q608.2,530.3 612.3,539.9" stroke-width="1.3"/>
<path d="M612.3,566.0 H620.5 V587.3 H612.3 Z"/>
<path d="M612.3,567.0 Q608.2,576.6 612.3,586.3" stroke-width="1.3"/>
<path d="M620.5,519.7 H629.9 V587.3 H620.5 Z"/>
<line x1="620.5" y1="524.8" x2="629.9" y2="524.8" stroke-width="1.4"/>
<line x1="620.5" y1="582.5" x2="629.9" y2="582.5" stroke-width="1.4"/>
<path d="M764.9,519.7 H773.7 V587.3 H764.9 Z"/>
<line x1="764.9" y1="524.8" x2="773.7" y2="524.8" stroke-width="1.4"/>
<line x1="764.9" y1="582.2" x2="773.7" y2="582.2" stroke-width="1.4"/>
<path d="M773.7,519.7 H781.9 V540.9 H773.7 Z"/>
<path d="M781.9,520.7 Q786.5,530.3 781.9,539.9" stroke-width="1.3"/>
<path d="M773.7,566.0 H781.9 V587.3 H773.7 Z"/>
<path d="M781.9,567.0 Q786.5,576.6 781.9,586.3" stroke-width="1.3"/>
<line x1="782.5" y1="539.0" x2="791.6" y2="539.0" stroke-width="1.3"/>
<line x1="782.5" y1="568.0" x2="791.6" y2="568.0" stroke-width="1.3"/>
<path d="M791.6,536.7 H810.0 V570.3 H791.6 Z" stroke-width="0.8" fill="#000"/>
<rect x="792.2" y="535.6" width="2.6" height="2.0" fill="#000" stroke="none"/>
<rect x="792.2" y="569.4" width="2.6" height="2.0" fill="#000" stroke="none"/>
<rect x="796.0" y="535.6" width="2.6" height="2.0" fill="#000" stroke="none"/>
<rect x="796.0" y="569.4" width="2.6" height="2.0" fill="#000" stroke="none"/>
<rect x="799.7" y="535.6" width="2.6" height="2.0" fill="#000" stroke="none"/>
<rect x="799.7" y="569.4" width="2.6" height="2.0" fill="#000" stroke="none"/>
<rect x="803.5" y="535.6" width="2.6" height="2.0" fill="#000" stroke="none"/>
<rect x="803.5" y="569.4" width="2.6" height="2.0" fill="#000" stroke="none"/>
<rect x="807.2" y="535.6" width="2.6" height="2.0" fill="#000" stroke="none"/>
<rect x="807.2" y="569.4" width="2.6" height="2.0" fill="#000" stroke="none"/>
<line x1="793.0" y1="538.5" x2="796.0" y2="568.5" stroke="#fff" stroke-width="0.5" opacity="0.25"/>
<line x1="796.8" y1="538.5" x2="799.8" y2="568.5" stroke="#fff" stroke-width="0.5" opacity="0.25"/>
<line x1="800.5" y1="538.5" x2="803.5" y2="568.5" stroke="#fff" stroke-width="0.5" opacity="0.25"/>
<line x1="804.2" y1="538.5" x2="807.2" y2="568.5" stroke="#fff" stroke-width="0.5" opacity="0.25"/>
<line x1="808.0" y1="538.5" x2="811.0" y2="568.5" stroke="#fff" stroke-width="0.5" opacity="0.25"/>
<path d="M810.0,538.8 H815.5 V568.1 H810.0 Z"/>
<circle cx="646.6" cy="553.3" r="5.2" stroke-width="1.4"/>
<circle cx="646.6" cy="553.3" r="1.8" stroke-width="0" fill="#000"/>
<circle cx="747.8" cy="553.3" r="5.2" stroke-width="1.4"/>
<circle cx="747.8" cy="553.3" r="1.8" stroke-width="0" fill="#000"/>
<path d="M671.0,548.6 H707.8 V543.0 L722.8,553.8 L707.8,564.6 V559.0 H671.0 Z" stroke-width="1.4"/>
<path d="M645.0,526.8 648.4,523.4 648.4,540.6M645.0,540.6 651.8,540.6" stroke-width="1.6" stroke-linecap="round" stroke-linejoin="round"/>
<path d="M740.5,526.4 743.5,523.6 749.3,523.6 752.3,526.6 752.3,529.2 749.3,532.3 743.7,532.3 740.5,535.1 740.5,540.5 752.2,540.5" stroke-width="1.6" stroke-linecap="round" stroke-linejoin="round"/>
<path d="M692.0,641.7 695.3,638.9 701.9,638.9 705.2,641.7 705.2,644.5 701.9,646.7 697.0,646.7M701.9,646.7 705.2,648.9 705.2,652.8 701.9,655.6 695.3,655.6 692.0,652.8" stroke-width="1.6" stroke-linecap="round" stroke-linejoin="round"/>
<path d="M480.7,527.2 477.1,523.2 471.7,523.2 467.9,527.2 480.7,539.0 477.1,543.0 471.7,543.0 467.9,539.0M487.0,543.0 487.0,523.2 493.4,535.7 499.8,523.2 499.8,543.0M506.2,543.0 506.2,535.7 512.5,523.2 518.9,535.7 518.9,543.0M506.2,535.7 518.9,535.7M525.3,533.1 538.1,533.1M544.4,543.0 544.4,523.2 550.8,535.7 557.2,523.2 557.2,543.0" stroke-width="1.6" stroke-linecap="round" stroke-linejoin="round"/>
<path d="M832.6,527.1 829.1,523.2 823.8,523.2 820.0,527.1 832.6,538.6 829.1,542.5 823.8,542.5 820.0,538.6M838.9,542.5 838.9,523.2 845.2,535.4 851.5,523.2 851.5,542.5M857.8,542.5 857.8,535.4 864.1,523.2 870.4,535.4 870.4,542.5M857.8,535.4 870.4,535.4M876.7,532.9 889.3,532.9M908.2,523.2 895.6,523.2 895.6,542.5M895.6,532.9 905.1,532.9" stroke-width="1.6" stroke-linecap="round" stroke-linejoin="round"/>
<path d="M635.8,714.4 639.6,710.7 639.6,729.4M635.8,729.4 643.4,729.4M648.5,710.7 652.7,729.4 658.1,720.0 663.5,729.4 667.6,710.7M693.1,710.7 693.1,729.4 705.9,729.4M715.4,729.4 721.8,729.4 725.0,726.3 725.0,720.0 721.8,716.9 715.4,716.9 712.2,720.0 712.2,726.3 715.4,729.4M734.5,716.9 740.3,716.9 742.8,719.4 742.8,726.9 745.0,729.4M734.5,716.9 731.4,720.0 731.4,726.3 734.5,729.4 740.3,729.4 742.8,726.9M763.2,710.7 763.2,729.4M763.2,723.2 759.4,716.9 753.6,716.9 750.5,720.0 750.5,726.3 753.6,729.4 759.4,729.4 763.2,723.2" stroke-width="1.6" stroke-linecap="round" stroke-linejoin="round"/>
<path d="M663.4,667.9 H731.0 V684.0 H663.4 Z"/>
<path d="M663.4,684.0 V692.1 H684.7 V684.0"/>
<path d="M663.4,692.1 Q674.0,698.5 684.7,692.1" stroke-width="1.8"/>
<path d="M709.4,684.0 V692.1 H731.0 V684.0"/>
<path d="M709.4,692.1 Q720.2,698.5 731.0,692.1" stroke-width="1.8"/>
<path d="M678.6,694.5 V700.4 H716.0 V694.5"/>
<path d="M336.3,667.9 H403.9 V684.0 H336.3 Z"/>
<path d="M336.3,684.0 V692.1 H357.6 V684.0"/>
<path d="M336.3,692.1 Q347.0,698.5 357.6,692.1" stroke-width="1.8"/>
<path d="M382.3,684.0 V692.1 H403.9 V684.0"/>
<path d="M382.3,692.1 Q393.1,698.5 403.9,692.1" stroke-width="1.8"/>
<path d="M351.5,694.5 V700.4 H388.9 V694.5"/>
<path d="M990.9,667.9 H1058.5 V684.0 H990.9 Z"/>
<path d="M990.9,684.0 V692.1 H1012.2 V684.0"/>
<path d="M990.9,692.1 Q1001.6,698.5 1012.2,692.1" stroke-width="1.8"/>
<path d="M1036.9,684.0 V692.1 H1058.5 V684.0"/>
<path d="M1036.9,692.1 Q1047.7,698.5 1058.5,692.1" stroke-width="1.8"/>
<path d="M1006.1,694.5 V700.4 H1043.5 V694.5"/>
<line x1="629.7" y1="431.0" x2="629.7" y2="510.6" stroke-width="1.4"/>
<line x1="764.8" y1="431.0" x2="764.8" y2="510.6" stroke-width="1.4"/>
<line x1="629.7" y1="433.3" x2="668.5" y2="433.3" stroke-width="1.3"/>
<line x1="725.5" y1="433.3" x2="764.8" y2="433.3" stroke-width="1.3"/>
<path d="M629.7,433.3 L642.7,430.7 L642.7,435.9 Z" stroke-width="0.8" fill="#000"/>
<path d="M764.8,433.3 L751.8,435.9 L751.8,430.7 Z" stroke-width="0.8" fill="#000"/>
<path d="M670.5,429.0 672.7,426.7 677.0,426.7 679.2,429.0 679.2,431.7 670.5,439.5 670.5,440.4 679.2,440.4M692.3,426.7 683.6,426.7 683.6,432.4 690.1,432.4 692.3,434.7 692.3,438.1 690.1,440.4 685.7,440.4 683.6,438.1M697.7,440.4 697.7,439.3M708.6,440.4 708.6,426.7 702.0,435.8 710.7,435.8M717.3,440.4 721.6,440.4 723.8,438.1 723.8,429.0 721.6,426.7 717.3,426.7 715.1,429.0 715.1,438.1 717.3,440.4" stroke-width="1.45" stroke-linecap="round" stroke-linejoin="round"/>
<line x1="646.8" y1="463.5" x2="646.8" y2="510.6" stroke-width="1.4"/>
<line x1="748.2" y1="463.5" x2="748.2" y2="510.6" stroke-width="1.4"/>
<line x1="646.8" y1="465.4" x2="672.0" y2="465.4" stroke-width="1.3"/>
<line x1="722.0" y1="465.4" x2="748.2" y2="465.4" stroke-width="1.3"/>
<path d="M646.8,465.4 L659.8,462.8 L659.8,468.0 Z" stroke-width="0.8" fill="#000"/>
<path d="M748.2,465.4 L735.2,468.0 L735.2,462.8 Z" stroke-width="0.8" fill="#000"/>
<path d="M673.9,461.4 676.4,458.6 676.4,472.4M673.9,472.4 678.9,472.4M690.4,462.5 688.6,464.6 684.2,464.6 682.2,462.5 682.2,460.7 684.2,458.6 688.4,458.6 690.4,460.7 690.4,465.5 684.9,472.4M695.6,472.4 695.6,471.2M701.8,472.4 705.9,472.4 708.0,470.1 708.0,460.9 705.9,458.6 701.8,458.6 699.7,460.9 699.7,470.1 701.8,472.4M714.2,472.4 718.3,472.4 720.4,470.1 720.4,460.9 718.3,458.6 714.2,458.6 712.1,460.9 712.1,470.1 714.2,472.4" stroke-width="1.45" stroke-linecap="round" stroke-linejoin="round"/>
<line x1="977.6" y1="431.0" x2="977.6" y2="510.6" stroke-width="1.4"/>
<line x1="1072.2" y1="431.0" x2="1072.2" y2="510.6" stroke-width="1.4"/>
<line x1="977.6" y1="433.3" x2="997.5" y2="433.3" stroke-width="1.3"/>
<line x1="1051.0" y1="433.3" x2="1072.2" y2="433.3" stroke-width="1.3"/>
<path d="M977.6,433.3 L990.6,430.7 L990.6,435.9 Z" stroke-width="0.8" fill="#000"/>
<path d="M1072.2,433.3 L1059.2,435.9 L1059.2,430.7 Z" stroke-width="0.8" fill="#000"/>
<path d="M999.3,429.6 1002.0,426.8 1002.0,440.7M999.3,440.7 1004.6,440.7M1008.2,426.8 1017.0,426.8 1017.0,429.1 1011.5,440.7M1022.5,440.7 1022.5,439.5M1029.2,433.3 1027.0,431.2 1027.0,428.9 1029.2,426.8 1033.6,426.8 1035.8,428.9 1035.8,431.2 1033.6,433.3 1029.2,433.3 1027.0,435.4 1027.0,438.4 1029.2,440.7 1033.6,440.7 1035.8,438.4 1035.8,435.4 1033.6,433.3M1042.5,440.7 1046.9,440.7 1049.1,438.4 1049.1,429.1 1046.9,426.8 1042.5,426.8 1040.2,429.1 1040.2,438.4 1042.5,440.7" stroke-width="1.45" stroke-linecap="round" stroke-linejoin="round"/>
<line x1="767.0" y1="512.9" x2="936.5" y2="512.9" stroke-width="1.4"/>
<line x1="767.0" y1="667.9" x2="936.5" y2="667.9" stroke-width="1.4"/>
<line x1="934.8" y1="512.9" x2="934.8" y2="583.2" stroke-width="1.3"/>
<line x1="934.8" y1="597.6" x2="934.8" y2="667.9" stroke-width="1.3"/>
<path d="M934.8,512.9 L937.4,525.9 L932.2,525.9 Z" stroke-width="0.8" fill="#000"/>
<path d="M934.8,667.9 L932.2,654.9 L937.4,654.9 Z" stroke-width="0.8" fill="#000"/>
<path d="M908.6,585.6 910.7,583.2 915.0,583.2 917.2,585.6 917.2,588.5 908.6,596.6 908.6,597.6 917.2,597.6M930.0,587.3 928.1,589.4 923.6,589.4 921.4,587.3 921.4,585.4 923.6,583.2 927.8,583.2 930.0,585.4 930.0,590.4 924.2,597.6M935.3,597.6 935.3,596.4M939.6,585.6 941.8,583.2 946.0,583.2 948.2,585.6 948.2,588.5 939.6,596.6 939.6,597.6 948.2,597.6M954.6,597.6 958.9,597.6 961.0,595.2 961.0,585.6 958.9,583.2 954.6,583.2 952.4,585.6 952.4,595.2 954.6,597.6" stroke-width="1.45" stroke-linecap="round" stroke-linejoin="round"/>
<line x1="767.4" y1="553.6" x2="894.0" y2="553.6" stroke-width="1.4"/>
<line x1="892.2" y1="553.6" x2="892.2" y2="603.9" stroke-width="1.3"/>
<line x1="892.2" y1="617.6" x2="892.2" y2="667.9" stroke-width="1.3"/>
<path d="M892.2,553.6 L894.8,566.6 L889.6,566.6 Z" stroke-width="0.8" fill="#000"/>
<path d="M892.2,667.9 L889.6,654.9 L894.8,654.9 Z" stroke-width="0.8" fill="#000"/>
<path d="M868.0,605.9 870.1,603.5 874.4,603.5 876.5,605.9 876.5,608.8 868.0,617.0 868.0,618.0 876.5,618.0M880.7,606.4 883.3,603.5 883.3,618.0M880.7,618.0 885.8,618.0M890.3,618.0 890.3,616.8M903.1,605.9 900.9,603.5 896.7,603.5 894.6,605.9 894.6,615.6 896.7,618.0 900.9,618.0 903.1,615.6 903.1,612.0 900.9,609.5 894.6,609.5M909.4,618.0 913.7,618.0 915.8,615.6 915.8,605.9 913.7,603.5 909.4,603.5 907.3,605.9 907.3,615.6 909.4,618.0" stroke-width="1.45" stroke-linecap="round" stroke-linejoin="round"/>
<line x1="818.6" y1="452.8" x2="831.9" y2="452.8" stroke-width="1.3"/>
<line x1="818.6" y1="452.8" x2="747.8" y2="553.0" stroke-width="1.3"/>
<path d="M750.2,549.6 L754.1,540.1 L757.8,542.8 Z" stroke-width="0.8" fill="#000"/>
<path d="M830.7,449.4 830.7,435.0 835.2,444.1 839.6,435.0 839.6,449.4M844.1,437.4 846.4,435.0 850.8,435.0 853.1,437.4 853.1,440.3 844.1,448.4 844.1,449.4 853.1,449.4M857.5,449.4 866.5,439.8M857.5,439.8 866.5,449.4M877.7,449.4 877.7,435.0 871.0,444.6 879.9,444.6M884.4,449.4 884.4,439.8 887.5,439.8 888.8,441.2 888.8,449.4M888.8,441.2 890.2,439.8 892.0,439.8 893.3,441.5 893.3,449.4M897.8,449.4 897.8,439.8 900.9,439.8 902.3,441.2 902.3,449.4M902.3,441.2 903.6,439.8 905.4,439.8 906.7,441.5 906.7,449.4M912.3,449.4 912.3,448.2M925.7,435.0 925.7,449.4M925.7,444.6 923.1,439.8 919.0,439.8 916.8,442.2 916.8,447.0 919.0,449.4 923.1,449.4 925.7,444.6M930.2,444.6 939.2,444.6 939.2,442.2 936.9,439.8 932.5,439.8 930.2,442.2 930.2,447.0 932.5,449.4 939.2,449.4M943.6,444.6 952.6,444.6 952.6,442.2 950.3,439.8 945.9,439.8 943.6,442.2 943.6,447.0 945.9,449.4 952.6,449.4M957.1,454.2 957.1,439.8 963.8,439.8 966.0,442.2 966.0,447.0 963.8,449.4 957.1,449.4" stroke-width="1.45" stroke-linecap="round" stroke-linejoin="round"/>
<path d="M831.9,471.8 831.9,458.0 838.6,458.0 840.8,460.3 840.8,462.6 838.6,464.9 831.9,464.9M838.6,464.9 840.8,467.2 840.8,469.5 838.6,471.8 831.9,471.8M847.5,471.8 852.0,471.8 854.2,469.5 854.2,464.9 852.0,462.6 847.5,462.6 845.3,464.9 845.3,469.5 847.5,471.8M858.7,462.6 866.7,462.6M862.0,458.0 862.0,469.7 864.0,471.8 865.8,471.8M872.1,471.8 872.1,458.0M872.1,464.9 874.3,462.6 878.8,462.6 881.0,464.9 881.0,471.8M907.8,460.8 905.3,458.0 901.5,458.0 898.8,460.8 907.8,469.0 905.3,471.8 901.5,471.8 898.8,469.0M913.3,471.8 913.3,462.6M913.3,459.4 913.3,458.0M926.7,458.0 926.7,471.8M926.7,467.2 924.0,462.6 920.0,462.6 917.8,464.9 917.8,469.5 920.0,471.8 924.0,471.8 926.7,467.2M931.2,467.2 940.1,467.2 940.1,464.9 937.9,462.6 933.4,462.6 931.2,464.9 931.2,469.5 933.4,471.8 940.1,471.8M953.5,462.6 946.8,462.6 944.6,464.9 946.8,467.2 951.3,467.2 953.5,469.5 951.3,471.8 944.6,471.8" stroke-width="1.45" stroke-linecap="round" stroke-linejoin="round"/>
<path d="M322.6,512.9 H417.4 V667.9 H322.6 Z"/>
<path d="M341.3,519.5 H398.7 L404.2,525.0 V581.7 L398.7,587.2 H341.3 L335.8,581.7 V525.0 Z"/>
<path d="M370.0,528.4 L391.3,541.0 V565.8 L370.0,578.4 L348.7,565.8 V541.0 Z" stroke-width="1.4"/>
<circle cx="370.0" cy="553.4" r="21.0" stroke-width="1.4"/>
<circle cx="370.0" cy="553.4" r="17.3" stroke-width="1.4"/>
<circle cx="370.0" cy="553.4" r="12.6" stroke-width="1.4"/>
<circle cx="370.0" cy="553.4" r="2.7" stroke-width="1.3"/>
<circle cx="347.4" cy="531.1" r="10.3" stroke-width="1.6"/>
<path d="M345.2,523.1 H349.6 V528.9 H355.4 V533.3 H349.6 V539.1 H345.2 V533.3 H339.4 V528.9 H345.2 Z" stroke-width="1.3"/>
<circle cx="392.3" cy="531.1" r="10.3" stroke-width="1.6"/>
<path d="M390.1,523.1 H394.5 V528.9 H400.3 V533.3 H394.5 V539.1 H390.1 V533.3 H384.3 V528.9 H390.1 Z" stroke-width="1.3"/>
<circle cx="347.4" cy="575.9" r="10.3" stroke-width="1.6"/>
<path d="M345.2,567.9 H349.6 V573.7 H355.4 V578.1 H349.6 V583.9 H345.2 V578.1 H339.4 V573.7 H345.2 Z" stroke-width="1.3"/>
<circle cx="392.3" cy="575.9" r="10.3" stroke-width="1.6"/>
<path d="M390.1,567.9 H394.5 V573.7 H400.3 V578.1 H394.5 V583.9 H390.1 V578.1 H384.3 V573.7 H390.1 Z" stroke-width="1.3"/>
<line x1="417.4" y1="667.9" x2="448.4" y2="667.9" stroke-width="1.3"/>
<line x1="391.3" y1="700.3" x2="448.4" y2="700.3" stroke-width="1.3"/>
<line x1="446.8" y1="641.3" x2="446.8" y2="667.9" stroke-width="1.3"/>
<line x1="446.8" y1="700.3" x2="446.8" y2="727.4" stroke-width="1.3"/>
<path d="M446.8,667.9 L444.2,654.9 L449.4,654.9 Z" stroke-width="0.8" fill="#000"/>
<path d="M446.8,700.3 L449.4,713.3 L444.2,713.3 Z" stroke-width="0.8" fill="#000"/>
<path d="M416.2,680.3 414.1,678.0 409.8,678.0 407.7,680.3 407.7,689.3 409.8,691.6 414.1,691.6 416.2,689.3 416.2,685.9 414.1,683.7 407.7,683.7M421.5,691.6 421.5,690.5M427.8,691.6 432.1,691.6 434.2,689.3 434.2,680.3 432.1,678.0 427.8,678.0 425.7,680.3 425.7,689.3 427.8,691.6M440.6,691.6 444.8,691.6 446.9,689.3 446.9,680.3 444.8,678.0 440.6,678.0 438.4,680.3 438.4,689.3 440.6,691.6M451.2,691.6 451.2,678.0 455.4,686.6 459.7,678.0 459.7,691.6M466.0,682.5 469.8,682.5 471.5,684.3 471.5,689.8 473.0,691.6M466.0,682.5 463.9,684.8 463.9,689.3 466.0,691.6 469.8,691.6 471.5,689.8M476.6,691.6 485.1,682.5M476.6,682.5 485.1,691.6" stroke-width="1.45" stroke-linecap="round" stroke-linejoin="round"/>
<path d="M977.6,512.9 H1072.2 V667.9 H977.6 Z"/>
<path d="M996.0,519.5 H1053.4 L1058.9,525.0 V581.7 L1053.4,587.2 H996.0 L990.5,581.7 V525.0 Z"/>
<circle cx="1024.5" cy="553.1" r="17.3" stroke-width="1.5"/>
<circle cx="1024.5" cy="553.1" r="14.2" stroke-width="1.3"/>
<circle cx="1024.5" cy="553.1" r="12.4" stroke-width="1.3"/>
<circle cx="1024.5" cy="553.1" r="3.5" stroke-width="1.3"/>
<circle cx="1001.9" cy="530.7" r="10.4" stroke-width="1.6"/>
<path d="M999.7,522.7 H1004.1 V528.5 H1009.9 V532.9 H1004.1 V538.7 H999.7 V532.9 H993.9 V528.5 H999.7 Z" stroke-width="1.3"/>
<circle cx="1047.1" cy="530.7" r="10.4" stroke-width="1.6"/>
<path d="M1044.9,522.7 H1049.3 V528.5 H1055.1 V532.9 H1049.3 V538.7 H1044.9 V532.9 H1039.1 V528.5 H1044.9 Z" stroke-width="1.3"/>
<circle cx="1001.9" cy="575.6" r="10.4" stroke-width="1.6"/>
<path d="M999.7,567.6 H1004.1 V573.4 H1009.9 V577.8 H1004.1 V583.6 H999.7 V577.8 H993.9 V573.4 H999.7 Z" stroke-width="1.3"/>
<circle cx="1047.1" cy="575.6" r="10.4" stroke-width="1.6"/>
<path d="M1044.9,567.6 H1049.3 V573.4 H1055.1 V577.8 H1049.3 V583.6 H1044.9 V577.8 H1039.1 V573.4 H1044.9 Z" stroke-width="1.3"/>
<line x1="1072.2" y1="667.9" x2="1103.6" y2="667.9" stroke-width="1.3"/>
<line x1="1044.4" y1="700.1" x2="1103.6" y2="700.1" stroke-width="1.3"/>
<line x1="1101.5" y1="641.7" x2="1101.5" y2="667.9" stroke-width="1.3"/>
<line x1="1101.5" y1="700.1" x2="1101.5" y2="728.1" stroke-width="1.3"/>
<path d="M1101.5,667.9 L1098.9,654.9 L1104.1,654.9 Z" stroke-width="0.8" fill="#000"/>
<path d="M1101.5,700.1 L1104.1,713.1 L1098.9,713.1 Z" stroke-width="0.8" fill="#000"/>
<path d="M1071.2,680.6 1069.1,678.4 1064.8,678.4 1062.7,680.6 1062.7,689.3 1064.8,691.5 1069.1,691.5 1071.2,689.3 1071.2,686.0 1069.1,683.9 1062.7,683.9M1076.5,691.5 1076.5,690.4M1082.9,691.5 1087.1,691.5 1089.3,689.3 1089.3,680.6 1087.1,678.4 1082.9,678.4 1080.8,680.6 1080.8,689.3 1082.9,691.5M1095.7,691.5 1099.9,691.5 1102.0,689.3 1102.0,680.6 1099.9,678.4 1095.7,678.4 1093.5,680.6 1093.5,689.3 1095.7,691.5M1106.3,691.5 1106.3,678.4 1110.5,686.7 1114.8,678.4 1114.8,691.5M1121.2,682.8 1125.0,682.8 1126.7,684.5 1126.7,689.8 1128.2,691.5M1121.2,682.8 1119.0,685.0 1119.0,689.3 1121.2,691.5 1125.0,691.5 1126.7,689.8M1131.8,691.5 1140.3,682.8M1131.8,682.8 1140.3,691.5" stroke-width="1.45" stroke-linecap="round" stroke-linejoin="round"/>
</g>
</svg></body></html>
